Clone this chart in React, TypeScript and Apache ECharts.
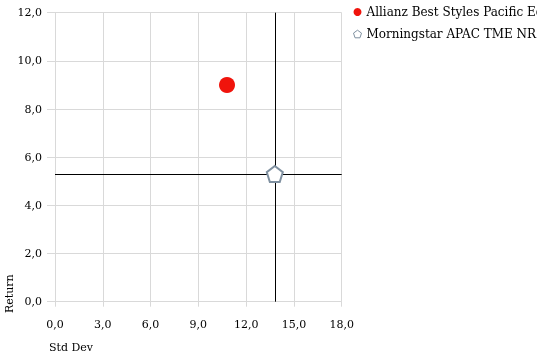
import React, { useEffect, useRef } from "react";
import * as echarts from "echarts";

const seriesNames = ["Allianz Best Styles Pacific Eq", "Morningstar APAC TME NR"];
const fundPoint = [10.8, 9.0];
const benchPoint = [13.8, 5.3];
const xTicks = { min: 0, max: 18, interval: 3 };
const yTicks = { min: 0, max: 12, interval: 2 };
const xName = "Std Dev";
const yName = "Return";

const PENTAGON = "path://M0,-1 L0.951,-0.309 L0.588,0.809 L-0.588,0.809 L-0.951,-0.309 Z";
const FONT = "DejaVu Serif";

const fmt = (v: number) => v.toFixed(1).replace(".", ",");

export default function App() {
  const ref = useRef<HTMLDivElement>(null);
  useEffect(() => {
    if (!ref.current) return;
    const chart = echarts.init(ref.current, undefined, { renderer: "svg" });
    const gridColor = "#d9d9d9";
    chart.setOption({
      animation: false,
      textStyle: { fontFamily: FONT },
      grid: { left: 55, right: 195.3, top: 12.7, bottom: 53.3 },
      legend: {
        orient: "vertical",
        left: 348,
        top: 1,
        itemWidth: 8,
        itemHeight: 8,
        itemGap: 10,
        textStyle: { fontFamily: FONT, fontSize: 12, color: "#000" },
        data: [
          { name: seriesNames[0], icon: "circle" },
          { name: seriesNames[1], itemStyle: { borderWidth: 1, borderColor: "#7f90a0", color: "#fff" } },
        ],
      },
      xAxis: {
        type: "value",
        min: xTicks.min,
        max: xTicks.max,
        interval: xTicks.interval,
        axisLine: { show: false },
        axisTick: { show: true, length: 5, lineStyle: { color: gridColor } },
        splitLine: { show: true, lineStyle: { color: gridColor } },
        axisLabel: { formatter: fmt, fontFamily: FONT, fontSize: 11, color: "#000", margin: 17 },
      },
      yAxis: {
        type: "value",
        min: yTicks.min,
        max: yTicks.max,
        interval: yTicks.interval,
        axisLine: { show: false },
        axisTick: { show: true, length: 8, lineStyle: { color: gridColor } },
        splitLine: { show: true, lineStyle: { color: gridColor } },
        axisLabel: { formatter: fmt, fontFamily: FONT, fontSize: 11, color: "#000", margin: 13 },
      },
      graphic: [
        {
          type: "text",
          left: 49,
          top: 342,
          style: { text: xName, font: `11px '${FONT}'`, fill: "#000" },
        },
        {
          type: "text",
          x: 4,
          y: 313,
          rotation: Math.PI / 2,
          style: { text: yName, font: `11px '${FONT}'`, fill: "#000" },
        },
      ],
      series: [
        {
          name: seriesNames[0],
          type: "scatter",
          symbol: "circle",
          symbolSize: 16,
          itemStyle: { color: "#f0140c", opacity: 1 },
          data: [fundPoint],
          z: 3,
        },
        {
          name: seriesNames[1],
          type: "scatter",
          symbol: PENTAGON,
          symbolSize: 16,
          itemStyle: { color: "#ffffff", borderColor: "#7f90a0", borderWidth: 2, opacity: 1 },
          data: [benchPoint],
          z: 4,
          markLine: {
            silent: true,
            symbol: ["none", "none"],
            label: { show: false },
            lineStyle: { color: "#000", width: 1, type: "solid" },
            data: [{ xAxis: benchPoint[0] }, { yAxis: benchPoint[1] }],
            z: 2,
          },
        },
      ],
    });
    return () => chart.dispose();
  }, []);
  return (
    <div
      ref={ref}
      style={{ position: "fixed", left: 0, top: 0, width: 537, height: 355 }}
    />
  );
}
